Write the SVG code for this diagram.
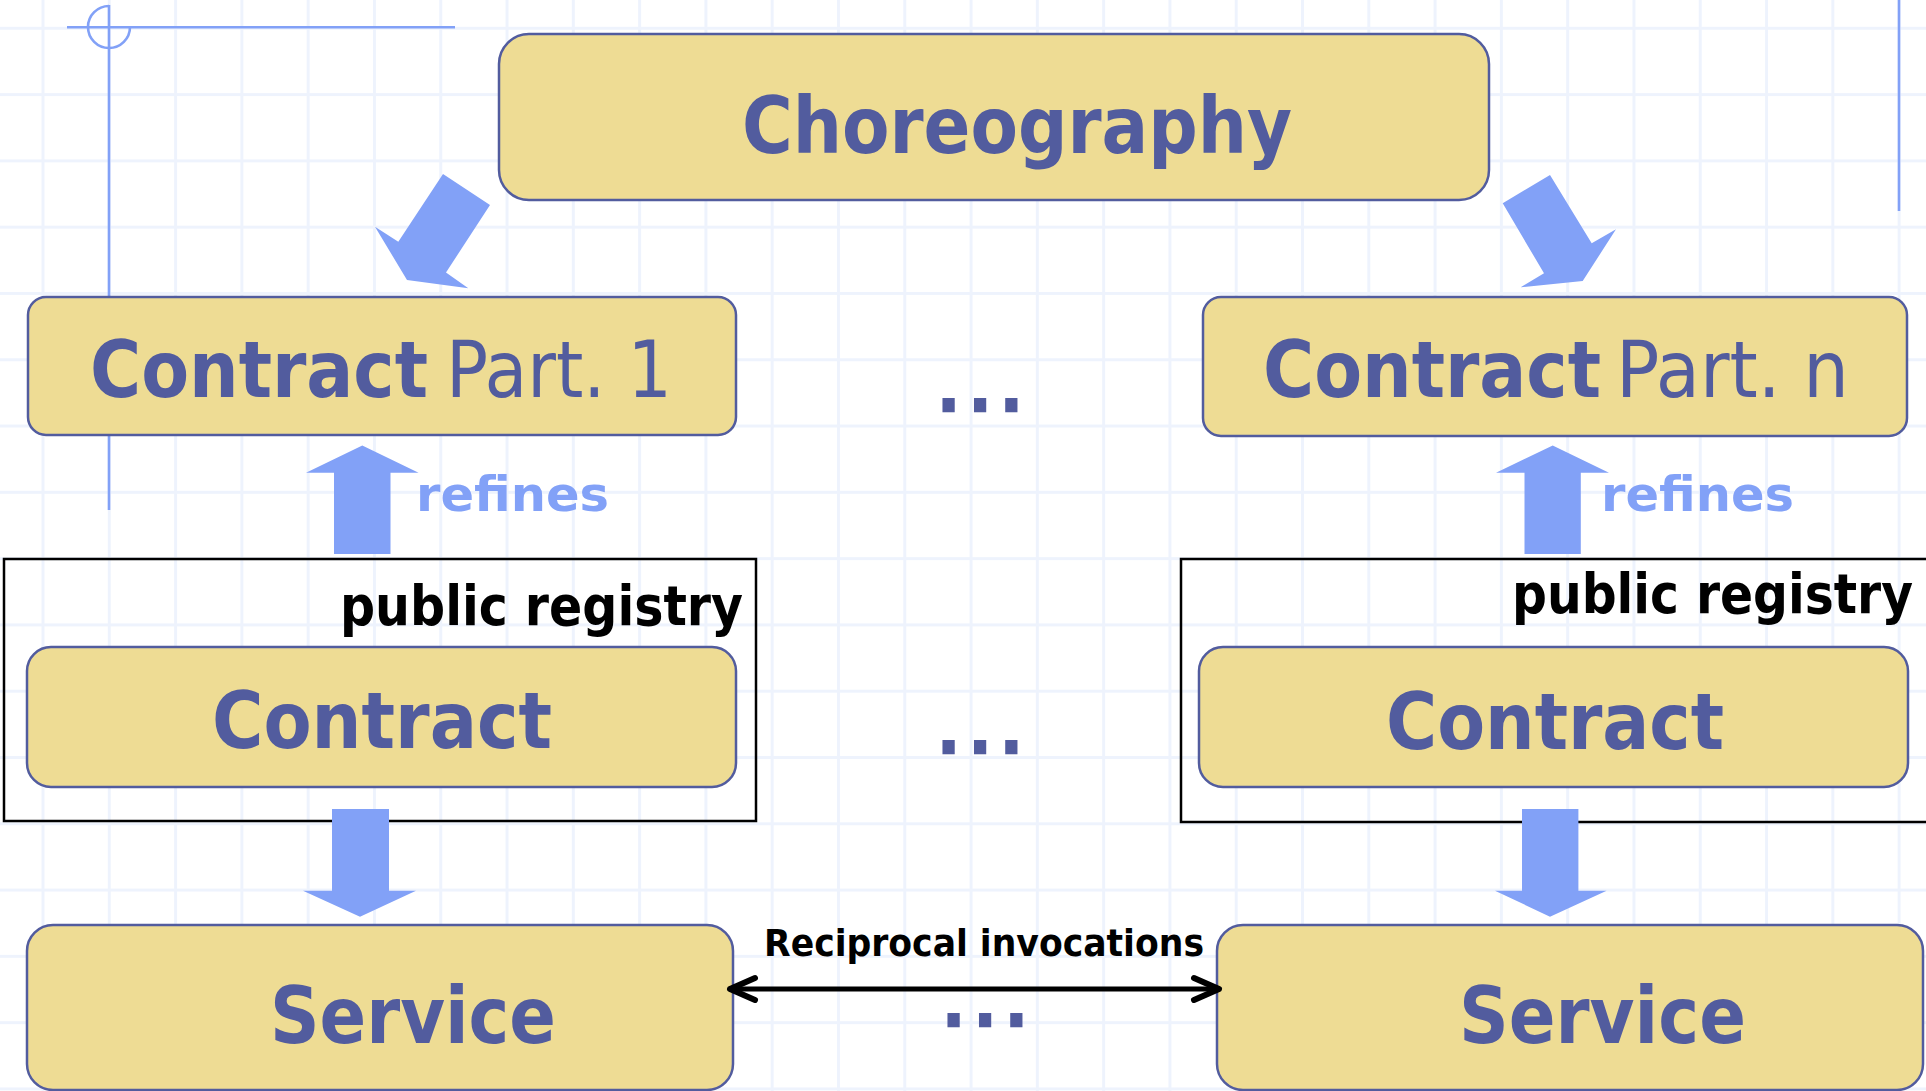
<svg xmlns="http://www.w3.org/2000/svg" width="1926" height="1091" viewBox="0 0 1926 1091">
  <defs>
    <style>
      .box { fill: #EEDC94; stroke: #525C9E; stroke-width: 2.5; }
      .reg { fill: none; stroke: #000; stroke-width: 2.5; }
      text { font-family: "DejaVu Sans Condensed", "DejaVu Sans", Verdana, sans-serif; font-stretch: condensed; }
      .lbl { fill: #525C9E; font-size: 78px; }
      .b { font-weight: bold; }
      .n { font-weight: normal; }
      .reglbl { font-weight: bold; fill: #000; font-size: 55px; }
      .ref { font-weight: bold; fill: #82A1F7; font-size: 48px; }
      .inv { font-weight: bold; fill: #000; font-size: 38px; }
      .dots { font-weight: bold; fill: #525C9E; stroke: #525C9E; stroke-width: 2.4; font-size: 62px; }
      .blk { fill: #82A1F7; }
      .guide { fill: none; stroke: #82A1F7; stroke-width: 2.6; }
      .link { fill: none; stroke: #000; stroke-width: 5; }
    </style>
    <pattern id="grid" patternUnits="userSpaceOnUse" x="9.855" y="-4.845" width="66.29" height="66.29">
      <rect x="31.645" y="0" width="3" height="66.29" fill="#EEF3FD"/>
      <rect x="0" y="31.645" width="66.29" height="3" fill="#EEF3FD"/>
    </pattern>
    <marker id="chev" viewBox="-32 -16 36 32" markerWidth="36" markerHeight="32" refX="0" refY="0" orient="auto-start-reverse" markerUnits="userSpaceOnUse">
      <path d="M-25,-11 L0,0 L-25,11" fill="none" stroke="#000" stroke-width="6" stroke-linecap="round" stroke-linejoin="round"/>
    </marker>
  </defs>

  <!-- background and grid -->
  <rect x="0" y="0" width="1926" height="1091" fill="#FFFFFF"/>
  <rect x="0" y="0" width="1926" height="1091" fill="url(#grid)"/>

  <!-- slide guide marks -->
  <g id="guides">
    <line class="guide" x1="67" y1="27.3" x2="455" y2="27.3"/>
    <line class="guide" x1="109" y1="5" x2="109" y2="510"/>
    <path class="guide" d="M109,6 A21,21 0 1 0 130,27"/>
    <line class="guide" x1="1899" y1="0" x2="1899" y2="211"/>
  </g>

  <!-- public registry frames -->
  <g id="registry-1">
    <rect class="reg" x="4" y="559" width="752" height="262"/>
    <text class="reglbl" x="340" y="625" textLength="403" lengthAdjust="spacingAndGlyphs">public registry</text>
  </g>
  <g id="registry-n">
    <rect class="reg" x="1181" y="559" width="748" height="263"/>
    <text class="reglbl" x="1512" y="613" textLength="401" lengthAdjust="spacingAndGlyphs">public registry</text>
  </g>

  <g id="choreography">
    <rect class="box" x="499" y="34" width="990" height="166" rx="30"/>
    <text class="lbl b" x="742" y="153" font-size="79" textLength="550" lengthAdjust="spacingAndGlyphs">Choreography</text>
  </g>

  <g id="contract-part-1">
    <rect class="box" x="28" y="297" width="708" height="138" rx="18"/>
    <text class="lbl" y="397"><tspan class="b" x="90" textLength="338" lengthAdjust="spacingAndGlyphs">Contract</tspan><tspan class="n" x="446" textLength="226" lengthAdjust="spacingAndGlyphs">Part. 1</tspan></text>
  </g>

  <g id="contract-part-n">
    <rect class="box" x="1203" y="297" width="704" height="139" rx="18"/>
    <text class="lbl" y="397"><tspan class="b" x="1263" textLength="338" lengthAdjust="spacingAndGlyphs">Contract</tspan><tspan class="n" x="1616" textLength="233" lengthAdjust="spacingAndGlyphs">Part. n</tspan></text>
  </g>

  <g id="contract-1">
    <rect class="box" x="27" y="647" width="709" height="140" rx="24"/>
    <text class="lbl b" x="212" y="748" textLength="340" lengthAdjust="spacingAndGlyphs">Contract</text>
  </g>

  <g id="contract-n">
    <rect class="box" x="1199" y="647" width="709" height="140" rx="24"/>
    <text class="lbl b" x="1386" y="749" textLength="338" lengthAdjust="spacingAndGlyphs">Contract</text>
  </g>

  <g id="service-1">
    <rect class="box" x="27" y="925" width="706" height="165" rx="26"/>
    <text class="lbl b" x="270" y="1043" textLength="286" lengthAdjust="spacingAndGlyphs">Service</text>
  </g>

  <g id="service-n">
    <rect class="box" x="1217" y="925" width="706" height="165" rx="26"/>
    <text class="lbl b" x="1459" y="1043" textLength="287" lengthAdjust="spacingAndGlyphs">Service</text>
  </g>

  <!-- ellipses between the columns -->
  <g id="ellipses">
    <text class="dots" x="938" y="411" textLength="84" lengthAdjust="spacing">...</text>
    <text class="dots" x="938" y="753" textLength="84" lengthAdjust="spacing">...</text>
    <text class="dots" x="943" y="1026" textLength="84" lengthAdjust="spacing">...</text>
  </g>

  <!-- connectors -->
  <g id="connectors">
    <polygon class="blk" points="490,205 443,174 398.3,241.7 375,226.7 407,280 468.3,288.3 446,272.5"/>
    <polygon class="blk" points="1502.7,203.3 1550,175 1591.7,243.3 1616,229.3 1582.7,281 1520.7,287.3 1544,273.3"/>

    <polygon class="blk" points="362.3,445.5 418.6,472.7 390.5,472.7 390.5,554 334,554 334,472.7 306,472.7"/>
    <text class="ref" x="416" y="510.7" textLength="193" lengthAdjust="spacingAndGlyphs">refines</text>
    <polygon class="blk" points="1552.7,445.5 1609,472.7 1580.8,472.7 1580.8,554 1524.5,554 1524.5,472.7 1496,472.7"/>
    <text class="ref" x="1601" y="510.7" textLength="193" lengthAdjust="spacingAndGlyphs">refines</text>

    <polygon class="blk" points="332,809 389,809 389,890.7 416,890.7 360,916.7 303,890.7 332,890.7"/>
    <polygon class="blk" points="1522,809 1578.4,809 1578.4,890.7 1606.6,890.7 1550,916.7 1495,890.7 1522,890.7"/>

    <line class="link" x1="730" y1="989" x2="1219" y2="989" marker-start="url(#chev)" marker-end="url(#chev)"/>
    <text class="inv" x="764" y="956" textLength="440" lengthAdjust="spacingAndGlyphs">Reciprocal invocations</text>
  </g>
</svg>
